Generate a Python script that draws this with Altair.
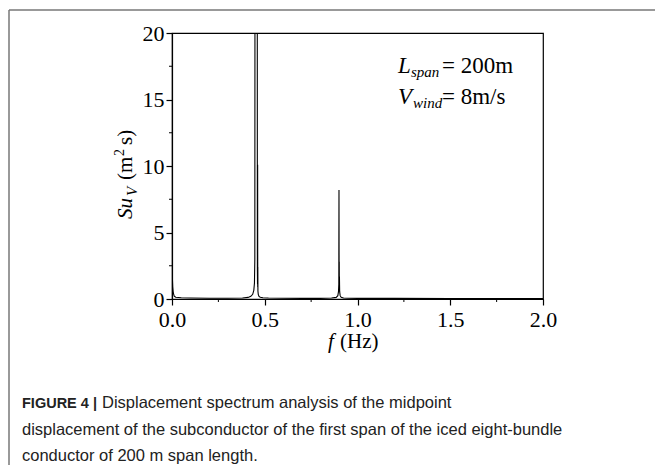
import altair as alt
import pandas as pd

# Spectrum of the midpoint displacement (frequency in Hz, Su_V in m^2 s)
freq = [0.0, 0.002, 0.004, 0.007, 0.012, 0.02, 0.05, 0.1, 0.2, 0.3, 0.38, 0.41,
        0.425, 0.435, 0.441, 0.4445, 0.4465, 0.4475, 0.4535, 0.4595, 0.4603,
        0.4610, 0.4617, 0.4622, 0.4627, 0.4632, 0.4650, 0.4690, 0.4760, 0.49,
        0.52, 0.6, 0.7, 0.8, 0.86, 0.885, 0.894, 0.8975, 0.8992, 0.9002, 0.9010,
        0.9016, 0.9021, 0.9026, 0.9038, 0.9065, 0.912, 0.925, 0.95, 1.0, 1.2,
        1.5, 1.8, 2.0]
amp = [2.3, 1.6, 0.9, 0.45, 0.22, 0.13, 0.09, 0.07, 0.06, 0.06, 0.08, 0.12,
       0.2, 0.35, 0.65, 1.2, 3.0, 30.0, 60.0, 30.0, 2.2,
       1.1, 10.1, 0.9, 2.4, 0.6, 0.35, 0.2, 0.13, 0.09,
       0.07, 0.06, 0.05, 0.05, 0.07, 0.12, 0.25, 0.55, 1.1, 8.2, 1.2,
       2.8, 0.9, 1.7, 0.55, 0.25, 0.13, 0.08, 0.06, 0.05, 0.05,
       0.04, 0.04, 0.04]

x_ticks = [0.0, 0.5, 1.0, 1.5, 2.0]
x_minor = [0.25, 0.75, 1.25, 1.75]
y_ticks = [0, 5, 10, 15, 20]
y_minor = [2.5, 7.5, 12.5, 17.5]

caption_bold = "FIGURE 4 |"
caption_lines = [
    "Displacement spectrum analysis of the midpoint",
    "displacement of the subconductor of the first span of the iced eight-bundle",
    "conductor of 200 m span length.",
]

SERIF = "Liberation Serif"
SANS = "Liberation Sans"
W, H = 371, 266
LEFT, TOP = 172, 33

df = pd.DataFrame({"f": freq, "s": amp})

xs = alt.Scale(domain=[0, 2], nice=False)
ys = alt.Scale(domain=[0, 20], nice=False)

spectrum = alt.Chart(df).mark_line(color="black", strokeWidth=1.1, clip=True).encode(
    x=alt.X("f:Q", scale=xs,
            axis=alt.Axis(values=x_ticks, format=".1f", title=None, labelPadding=4)),
    y=alt.Y("s:Q", scale=ys,
            axis=alt.Axis(values=y_ticks, format="d", title=None, labelPadding=2)),
)

minor_x = alt.Chart(pd.DataFrame({"f": x_minor})).mark_rule(
    color="black", strokeWidth=1).encode(
    x=alt.X("f:Q", scale=xs), y=alt.value(H), y2=alt.value(H + 3))
minor_y = alt.Chart(pd.DataFrame({"s": y_minor})).mark_rule(
    color="black", strokeWidth=1).encode(
    y=alt.Y("s:Q", scale=ys), x=alt.value(-3), x2=alt.value(0))

one = alt.Data(values=[{}])


def txt(text, ax, ay, size, font=SERIF, style="normal", weight="normal",
        angle=0, align="left", color="black"):
    return alt.Chart(one).mark_text(
        text=text, font=font, fontSize=size, fontStyle=style,
        fontWeight=weight, angle=angle, align=align, baseline="alphabetic",
        color=color,
    ).encode(x=alt.value(ax - LEFT), y=alt.value(ay - TOP))


labels = [
    # annotation
    txt("L", 398, 73, 23, style="italic"),
    txt("span", 411, 77, 15, style="italic"),
    txt("= 200m", 442, 73, 23),
    txt("V", 398, 104, 23, style="italic"),
    txt("wind", 413, 108, 15, style="italic"),
    txt("= 8m/s", 442, 104, 23),
    # x title
    txt("f", 328, 348, 21, style="italic"),
    txt("(Hz)", 340, 348, 21),
    # y title, rotated
    txt("Su", 132, 219, 21, style="italic", angle=270),
    txt("V", 137, 196, 15, style="italic", angle=270),
    txt("(m", 132, 180, 21, angle=270),
    txt("2", 124, 156, 14, angle=270),
    txt("s)", 132, 145, 21, angle=270),
    # caption
    txt(caption_bold, 22, 408, 14.5, font=SANS, weight="bold", color="#222"),
    txt(caption_lines[0], 102, 408, 16.5, font=SANS, color="#222"),
    txt(caption_lines[1], 22, 435, 16.5, font=SANS, color="#222"),
    txt(caption_lines[2], 22, 461, 16.5, font=SANS, color="#222"),
]

# outer figure frame
frame_top = alt.Chart(one).mark_rule(color="#777", strokeWidth=1.5).encode(
    x=alt.value(9 - LEFT), x2=alt.value(655 - LEFT), y=alt.value(10 - TOP))
frame_left = alt.Chart(one).mark_rule(color="#777", strokeWidth=1.5).encode(
    x=alt.value(9 - LEFT), y=alt.value(10 - TOP), y2=alt.value(465 - TOP))

chart = alt.layer(spectrum, minor_x, minor_y, frame_top, frame_left, *labels).properties(
    width=W, height=H,
    padding={"left": LEFT, "top": TOP, "right": 655 - LEFT - W, "bottom": 465 - TOP - H},
    autosize=alt.AutoSizeParams(type="none"),
    background="white",
).configure_view(
    stroke="black", strokeWidth=1.2,
).configure_axis(
    labelFont=SERIF, labelFontSize=22, labelColor="black", labelFlush=False,
    domainColor="black", domainWidth=1.2, tickColor="black", tickWidth=1.2,
    tickSize=6, grid=False,
)

chart.save("out.html", embed_options={"renderer": "svg", "actions": False})
